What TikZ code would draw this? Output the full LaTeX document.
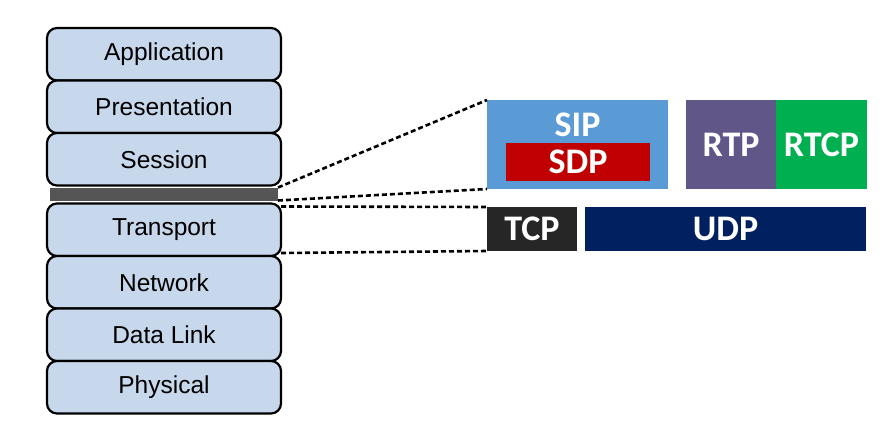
\documentclass[tikz,border=0pt]{standalone}
\usepackage{fontspec}
\setmainfont{Liberation Sans}
\newfontfamily\protofont{Carlito}
\usetikzlibrary{positioning}
\definecolor{layerblue}{RGB}{200,216,236}
\definecolor{bargray}{RGB}{85,85,85}
\definecolor{sipblue}{RGB}{91,155,213}
\definecolor{sdpred}{RGB}{192,0,0}
\definecolor{rtppurple}{RGB}{96,86,135}
\definecolor{rtcpgreen}{RGB}{0,176,80}
\definecolor{tcpblack}{RGB}{38,38,38}
\definecolor{udpnavy}{RGB}{0,32,96}

\begin{document}
\begin{tikzpicture}[x=1pt,y=-1pt,node distance=0pt,inner sep=0pt,outer sep=0pt]
\tikzstyle{layer}=[rectangle, rounded corners=10pt, line width=2.2pt, draw=black, fill=layerblue, minimum width=234pt, minimum height=52.5pt, font=\fontsize{24.5}{28}\selectfont]
\tikzstyle{prototext}=[text=white, font=\protofont\bfseries\fontsize{36}{42}\selectfont]
\tikzstyle{proto}=[rectangle, prototext, minimum height=89pt]
\tikzstyle{zoom}=[dash pattern=on 5pt off 3pt, line width=2.6pt]
\useasboundingbox (0,0) rectangle (893,433);
% OSI stack
\node[layer] (app) at (164,54.25) {Application};
\node[layer] (pres) [below=of app] {Presentation};
\node[layer] (sess) [below=of pres] {Session};
\node[rectangle, fill=bargray, minimum width=228pt, minimum height=13pt] (bar) [below=2pt of sess] {};
\node[layer] (trans) [below=3pt of bar] {Transport};
\node[layer] (net) [below=of trans] {Network};
\node[layer] (link) [below=of net] {Data Link};
\node[layer] (phys) [below=of link] {Physical};
% protocols
\node[proto, fill=sipblue, minimum width=181pt, label={[prototext,anchor=center,yshift=-25pt]north:SIP}] (sip) at (577.5,144.5) {};
\node[proto, fill=sdpred, minimum width=144pt, minimum height=38pt] (sdp) at (578,162) {SDP};
\node[proto, fill=rtppurple, minimum width=90pt] (rtp) at (731,144.5) {RTP};
\node[proto, fill=rtcpgreen, minimum width=91pt] (rtcp) [right=of rtp] {RTCP};
\node[proto, fill=tcpblack, minimum width=90pt, minimum height=44pt] (tcp) at (532,229) {TCP};
\node[proto, fill=udpnavy, minimum width=281pt, minimum height=44pt] (udp) [right=8pt of tcp] {UDP};
% zoom lines
\path (bar.north east) edge[zoom] (sip.north west);
\path (bar.south east) edge[zoom] (sip.south west);
\path ([yshift=-3pt]trans.north east) edge[zoom] (tcp.north west);
\path ([yshift=3pt]trans.south east) edge[zoom] (tcp.south west);
\end{tikzpicture}
\end{document}
